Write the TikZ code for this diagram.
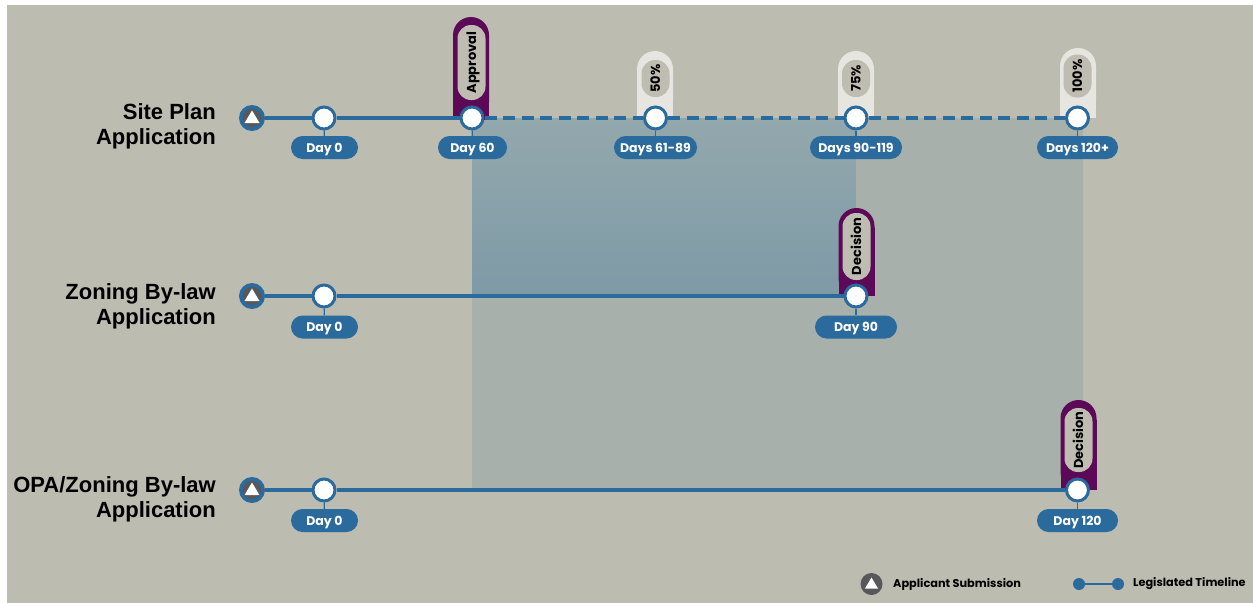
\documentclass[tikz,border=0pt]{standalone}
\usepackage{fontspec}
\setmainfont{Liberation Sans}
\newfontfamily\gothic{Poppins}
\usetikzlibrary{calc}

\definecolor{bg}{HTML}{BDBCB0}
\definecolor{tlblue}{HTML}{2A6A9C}
\definecolor{tabpurple}{HTML}{5C0A57}
\definecolor{tablight}{HTML}{E7E5DF}
\definecolor{innergray}{HTML}{BFBDB2}
\definecolor{shadetop}{HTML}{93A8AD}
\definecolor{shadebot}{HTML}{7E9AA6}
\definecolor{shadegray}{HTML}{A7B0AB}
\definecolor{subgray}{HTML}{58585A}

\tikzset{
  tl/.style={draw=tlblue, line width=4},
  tldash/.style={tl, dash pattern=on 12 off 6.5},
  ms/.style={circle, draw=tlblue, line width=3, fill=white, minimum size=22, inner sep=0},
  pill/.style={fill=tlblue, text=white, font=\gothic\bfseries\fontsize{12.5}{14}\selectfont,
    rounded corners=11.5, minimum height=23, inner xsep=4, inner ysep=0,
    text height=9, text depth=0},
  tick/.style={draw=tlblue, line width=1.4},
  tabtext/.style={rotate=90, fill=innergray, rounded corners=13.5, minimum height=28,
    inner xsep=3, inner ysep=0, font=\gothic\bfseries\fontsize{13}{14}\selectfont,
    text=black, text height=9.2, text depth=0},
  rowlabel/.style={anchor=east, align=right, font=\bfseries\fontsize{22}{25}\selectfont, inner sep=0},
  legend/.style={anchor=west, inner sep=0, font=\gothic\bfseries\fontsize{11.3}{13}\selectfont},
  subout/.style={circle, fill=tlblue, minimum size=26, inner sep=0},
  subin/.style={circle, fill=subgray, minimum size=18, inner sep=0},
}

% applicant-submission marker: name, position
\newcommand\submark[2]{%
  \node[subout] (#1) at (#2) {};
  \node[subin] at (#1) {};
  \fill[white] ($(#1)+(0,-7.5)$) -- ($(#1)+(7.5,5)$) -- ($(#1)+(-7.5,5)$) -- cycle;
}
% milestone tab behind a timeline point: centre x, top y, bottom y, colour
\newcommand\tabshape[4]{%
  \fill[#4, rounded corners=18] (#1-18,#2) rectangle (#1+18,#3);
  \fill[#4] (#1-18,#2+20) rectangle (#1+18,#3);
}

\begin{document}
\begin{tikzpicture}[x=1pt, y=-1pt]
\useasboundingbox (0,0) rectangle (1253,603);
\fill[white] (0,0) rectangle (1253,603);
\fill[bg] (7,5) rectangle (1253,603);

% overlap of review periods
\fill[top color=shadetop, bottom color=shadebot] (472,118) rectangle (856,296);
\fill[shadegray] (856,118) -- (1083,118) -- (1083,490) -- (472,490) -- (472,296) -- (856,296) -- cycle;

% milestone tabs
\tabshape{471}{17}{120}{tabpurple}
\tabshape{655}{51}{118}{tablight}
\tabshape{856}{51}{118}{tablight}
\tabshape{1078}{48}{118}{tablight}
\tabshape{856.5}{208}{296}{tabpurple}
\tabshape{1078.5}{400}{490}{tabpurple}

\node[tabtext, minimum width=75] (tapp) at (471.5,62.5) {Approval};
\node[tabtext, minimum width=37] (t50) at (655.5,78.5) {50\%};
\node[tabtext, minimum width=37] (t75) at (856,78.5) {75\%};
\node[tabtext, minimum width=43] (t100) at (1077.5,76) {100\%};
\node[tabtext, minimum width=67] (tdec1) at (856.5,246.5) {Decision};
\node[tabtext, minimum width=64] (tdec2) at (1078.5,440) {Decision};

% row labels
\node[rowlabel] (lab1) at (216,126) {Site Plan\\Application};
\node[rowlabel] (lab2) at (216,306) {Zoning By-law\\Application};
\node[rowlabel] (lab3) at (216,499.5) {OPA/Zoning By-law\\Application};

% ---- Site Plan Application ----
\submark{sub1}{252,118}
\node[ms] (a0) at (324,118) {};
\node[ms] (a60) at (472,118) {};
\node[ms] (a50) at (655.5,118) {};
\node[ms] (a75) at (856,118) {};
\node[ms] (a100) at (1077.5,118) {};
\node[pill, minimum width=67] (pa0) at (324.5,147.5) {Day 0};
\node[pill, minimum width=69] (pa60) at (472.5,147.5) {Day 60};
\node[pill, minimum width=83] (pa50) at (655.5,147.5) {Days 61-89};
\node[pill, minimum width=92] (pa75) at (856,147.5) {Days 90-119};
\node[pill, minimum width=81] (pa100) at (1077.5,147.5) {Days 120+};
\draw[tl] (sub1) -- (a0) -- (a60);
\draw[tldash] (a60) -- (a50);
\draw[tldash] (a50) -- (a75);
\draw[tldash] (a75) -- (a100);
\foreach \m in {0,60,50,75,100} \draw[tick] (a\m) -- (pa\m);

% ---- Zoning By-law Application ----
\submark{sub2}{252,296}
\node[ms] (b0) at (324,296) {};
\node[ms] (b90) at (856,296) {};
\node[pill, minimum width=67] (pb0) at (324.5,327) {Day 0};
\node[pill, minimum width=82] (pb90) at (856,327) {Day 90};
\draw[tl] (sub2) -- (b0) -- (b90);
\foreach \m in {0,90} \draw[tick] (b\m) -- (pb\m);

% ---- OPA/Zoning By-law Application ----
\submark{sub3}{252,490}
\node[ms] (c0) at (324,490) {};
\node[ms] (c120) at (1077.5,490) {};
\node[pill, minimum width=67] (pc0) at (324.5,520.5) {Day 0};
\node[pill, minimum width=81] (pc120) at (1077.5,520.5) {Day 120};
\draw[tl] (sub3) -- (c0) -- (c120);
\foreach \m in {0,120} \draw[tick] (c\m) -- (pc\m);

% ---- legend ----
\node[circle, fill=subgray, minimum size=22, inner sep=0] (legsub) at (871.5,584) {};
\fill[white] ($(legsub)+(0,-6.5)$) -- ($(legsub)+(6.5,4.5)$) -- ($(legsub)+(-6.5,4.5)$) -- cycle;
\node[legend] (legsubtxt) at (893,584) {Applicant Submission};
\node[circle, fill=tlblue, minimum size=12, inner sep=0] (legd1) at (1079,584) {};
\node[circle, fill=tlblue, minimum size=12, inner sep=0] (legd2) at (1118,584) {};
\draw[tlblue, line width=2] (legd1) -- (legd2);
\node[legend] (legtltxt) at (1133,584) {Legislated Timeline};
\end{tikzpicture}
\end{document}
